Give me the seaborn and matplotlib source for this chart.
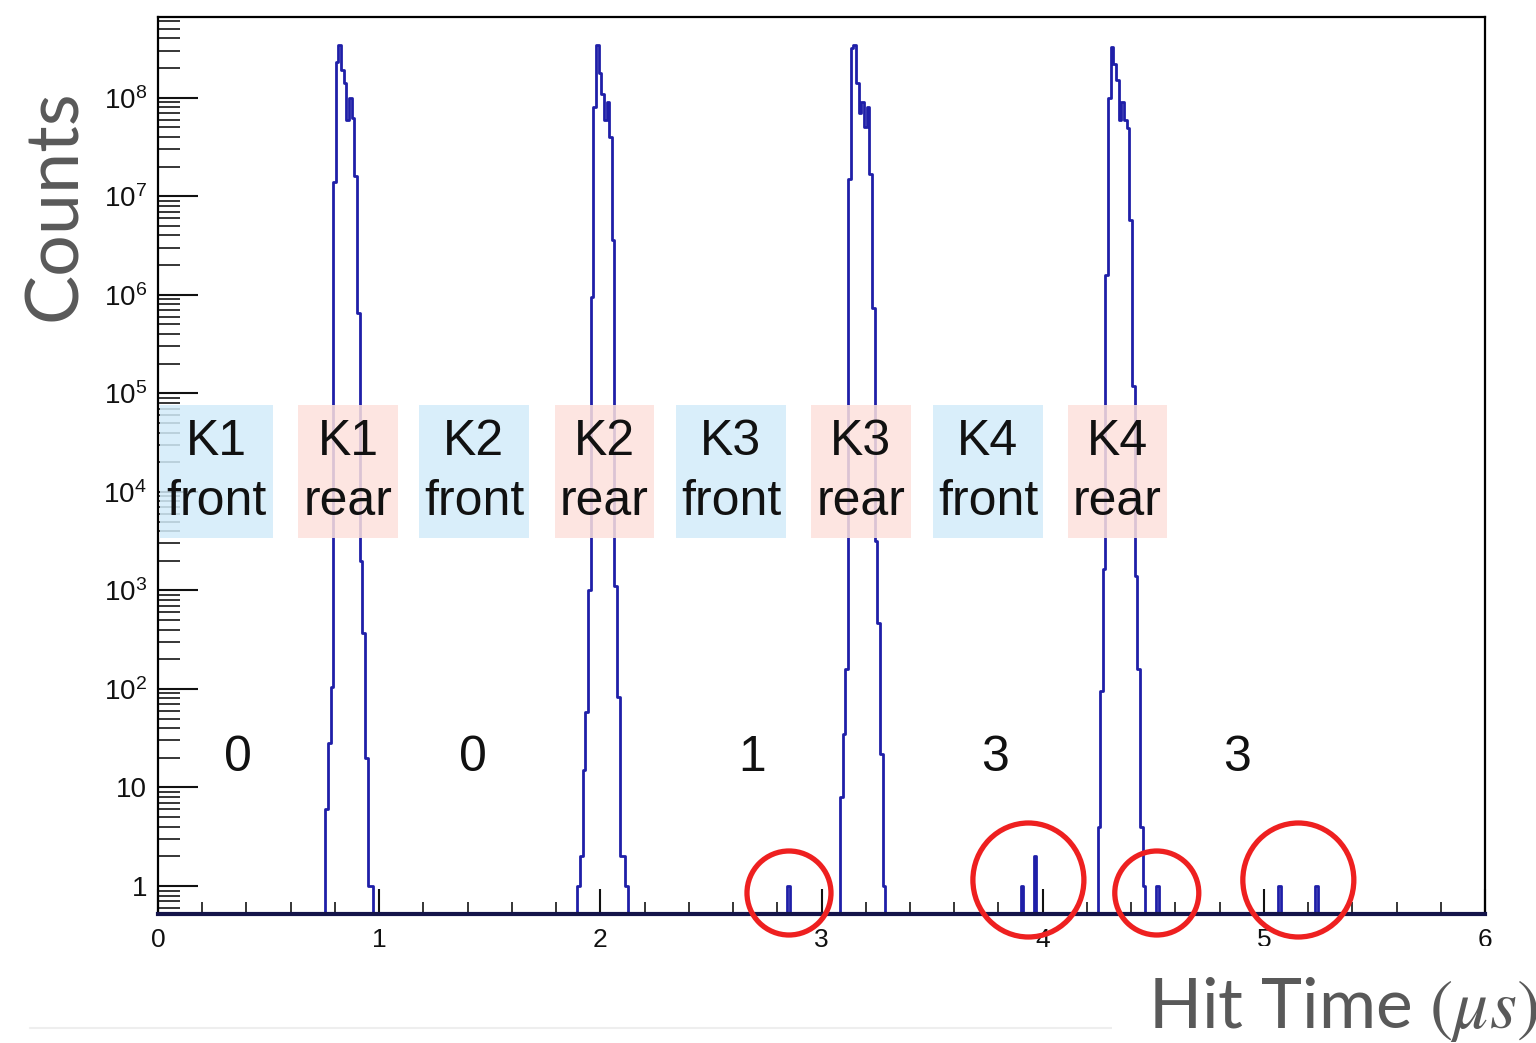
import numpy as np
import pandas as pd
import matplotlib
matplotlib.use("Agg")
import matplotlib.pyplot as plt
import seaborn as sns
from matplotlib.patches import Rectangle, Ellipse
from matplotlib.ticker import LogLocator, FixedFormatter, FixedLocator, MultipleLocator, NullFormatter
import matplotlib.transforms as mtransforms

# ---------------- data ----------------
bin_width = 0.012          # µs
time_range = (0.0, 6.0)

# first bin (µs) of each "rear" kicker peak and the bin contents
peak_starts = [0.756, 1.896, 3.084, 4.248]
k1_rear_counts = [6, 28, 105, 1.4e7, 2.3e8, 3.4e8, 1.9e8, 1.4e8, 6e7, 1e8, 6.3e7,
                  1.6e7, 6.6e5, 2000, 370, 20, 1, 1]
k2_rear_counts = [1, 2, 15, 59, 1000, 9.5e5, 8e7, 3.4e8, 1.8e8, 1.1e8, 6e7, 9e7,
                  4e7, 3.6e6, 1100, 83, 2, 2, 1]
k3_rear_counts = [8, 35, 160, 1.5e7, 3.2e8, 3.4e8, 1.4e8, 7e7, 9e7, 5e7, 8e7, 1.7e7,
                  7.4e5, 3200, 470, 22, 1]
k4_rear_counts = [4, 95, 1650, 1.6e6, 1e8, 3.3e8, 2.2e8, 1.5e8, 6e7, 9e7, 6e7, 4.9e7,
                  5.8e6, 1.2e5, 1400, 160, 4, 1]

# isolated hits between the kickers
hit_times = [2.853, 3.906, 3.965, 4.516, 5.072, 5.240]
hit_counts = [1, 1, 2, 1, 1, 1]
circled_groups = [[0], [1, 2], [3], [4, 5]]
circle_sizes = ["small", "big", "small", "big"]

# number of hits counted in each gap
gap_numbers = ["0", "0", "1", "3", "3"]
gap_number_x = [0.362, 1.424, 2.686, 3.784, 4.879]

# kicker label boxes
kicker_names = ["K1", "K1", "K2", "K2", "K3", "K3", "K4", "K4"]
kicker_sides = ["front", "rear", "front", "rear", "front", "rear", "front", "rear"]
box_left = [0.009, 0.633, 1.180, 1.795, 2.342, 2.952, 3.504, 4.114]
box_right = [0.520, 1.085, 1.677, 2.243, 2.839, 3.405, 4.001, 4.562]

y_tick_values = [1, 10, 1e2, 1e3, 1e4, 1e5, 1e6, 1e7, 1e8]
y_tick_labels = ["1", "10", "$10^{2}$", "$10^{3}$", "$10^{4}$", "$10^{5}$",
                 "$10^{6}$", "$10^{7}$", "$10^{8}$"]
x_tick_values = [0, 1, 2, 3, 4, 5, 6]

# ---------------- build histogram ----------------
edges = np.round(np.arange(time_range[0], time_range[1] + bin_width / 2, bin_width), 6)
counts = np.zeros(len(edges) - 1)
for start, vals in zip(peak_starts, [k1_rear_counts, k2_rear_counts,
                                     k3_rear_counts, k4_rear_counts]):
    i0 = int(round(start / bin_width))
    counts[i0:i0 + len(vals)] = vals
for t, n in zip(hit_times, hit_counts):
    counts[int(t // bin_width)] += n
centers = 0.5 * (edges[:-1] + edges[1:])
df = pd.DataFrame({"time": centers, "counts": counts})

# ---------------- style ----------------
sns.set_style("white")
plt.rcParams["font.family"] = ["Liberation Sans", "DejaVu Sans"]
plt.rcParams["mathtext.fontset"] = "custom"
plt.rcParams["mathtext.rm"] = "Liberation Sans"
plt.rcParams["mathtext.it"] = "Liberation Sans:italic"
plt.rcParams["mathtext.bf"] = "Liberation Sans:bold"

W, H = 1536, 1043
fig = plt.figure(figsize=(W / 100, H / 100), dpi=100)
ax_l, ax_r, ax_t, ax_b = 158, 1485, 17, 914
ax = fig.add_axes([ax_l / W, 1 - ax_b / H, (ax_r - ax_l) / W, (ax_b - ax_t) / H])

line_color = "#1f1fa8"
sns.histplot(data=df, x="time", weights="counts", bins=list(edges), element="step",
             fill=False, color=line_color, linewidth=2.0, ax=ax, zorder=2)
ax.set_yscale("log")
ax.set_xlim(*time_range)
ax.set_xlabel("")
ax.set_ylabel("")

# spines
for s in ["top", "right", "left"]:
    ax.spines[s].set_color("black")
    ax.spines[s].set_linewidth(1.6)
ax.spines["bottom"].set_color("#14144a")
ax.spines["bottom"].set_linewidth(3.0)
ax.spines["bottom"].set_zorder(5)

# ticks
ax.yaxis.set_major_locator(FixedLocator(y_tick_values))
ax.yaxis.set_major_formatter(FixedFormatter(y_tick_labels))
ax.yaxis.set_minor_locator(LogLocator(base=10, subs=np.arange(2, 10), numticks=40))
ax.yaxis.set_minor_formatter(NullFormatter())
ax.set_xticks(x_tick_values)
ax.set_xticklabels([str(v) for v in x_tick_values])
ax.xaxis.set_minor_locator(MultipleLocator(0.2))
ax.tick_params(axis="y", which="major", direction="in", length=29, width=1.5,
               labelsize=20, pad=8, colors="#111111", left=True, right=False)
ax.tick_params(axis="y", which="minor", direction="in", length=16, width=1.3,
               left=True, right=False)
ax.tick_params(axis="x", which="major", direction="in", length=18, width=1.5,
               labelsize=19, pad=10, colors="#111111", bottom=True, top=False)
ax.tick_params(axis="x", which="minor", direction="in", length=9, width=1.3,
               bottom=True, top=False)
ax.set_ylim(0.52, 6.6e8)

# kicker boxes and labels
trans = mtransforms.blended_transform_factory(ax.transData, ax.transAxes)
box_y0 = (ax_b - 538) / (ax_b - ax_t)
box_y1 = (ax_b - 405) / (ax_b - ax_t)
name_y = (ax_b - 455) / (ax_b - ax_t)
side_y = (ax_b - 515) / (ax_b - ax_t)
for name, side, x0, x1 in zip(kicker_names, kicker_sides, box_left, box_right):
    fc = "#d3ecfa" if side == "front" else "#fde1dc"
    ax.add_patch(Rectangle((x0, box_y0), x1 - x0, box_y1 - box_y0, transform=trans,
                           facecolor=fc, edgecolor="none", alpha=0.85, zorder=3))
    xc = 0.5 * (x0 + x1)
    ax.text(xc, name_y, name, transform=trans, ha="center", va="baseline",
            fontsize=36, color="#111111", zorder=4)
    ax.text(xc, side_y, side, transform=trans, ha="center", va="baseline",
            fontsize=36, color="#111111", zorder=4)

# gap hit numbers
num_y = (ax_b - 771) / (ax_b - ax_t)
for txt, xv in zip(gap_numbers, gap_number_x):
    ax.text(xv, num_y, txt, transform=trans, ha="center", va="baseline",
            fontsize=36, color="#111111", zorder=4)

# red circles around the isolated hits
sizes = {"small": (84, 84, 893), "big": (111, 114, 880)}
axw, axh = ax_r - ax_l, ax_b - ax_t
for grp, sz in zip(circled_groups, circle_sizes):
    xc = np.mean([hit_times[i] for i in grp])
    w_px, h_px, yc_px = sizes[sz]
    xc_ax = (xc - time_range[0]) / (time_range[1] - time_range[0])
    e = Ellipse((xc_ax, (ax_b - yc_px) / axh), w_px / axw, h_px / axh,
                transform=ax.transAxes, fill=False, edgecolor="#ee2020",
                linewidth=3.8, clip_on=False, zorder=6)
    ax.add_patch(e)

# axis titles (slide style)
fig.text(56 / W, 1 - 205 / H, "Counts", rotation=90, ha="center", va="center",
         fontsize=53, color="#595959", family=["Lato", "DejaVu Sans"])

# faint slide line and overlay box at lower right
fig.add_artist(plt.Line2D([30 / W, 1115 / W], [1 - 1028 / H] * 2, color="#eeeeee",
                          linewidth=1.5, transform=fig.transFigure))
fig.add_artist(Rectangle((1112 / W, 0), 1 - 1112 / W, 1 - 946 / H, transform=fig.transFigure,
                         facecolor="white", edgecolor="none", zorder=10))
t = fig.text(1148 / W, 1 - 1028 / H, r"Hit Time $(\mu s)$", ha="left", va="baseline",
             fontsize=50, color="#595959", family=["Lato", "DejaVu Sans"], zorder=11)
t.set_math_fontfamily("stix")

fig.savefig("out.png", dpi=100)
